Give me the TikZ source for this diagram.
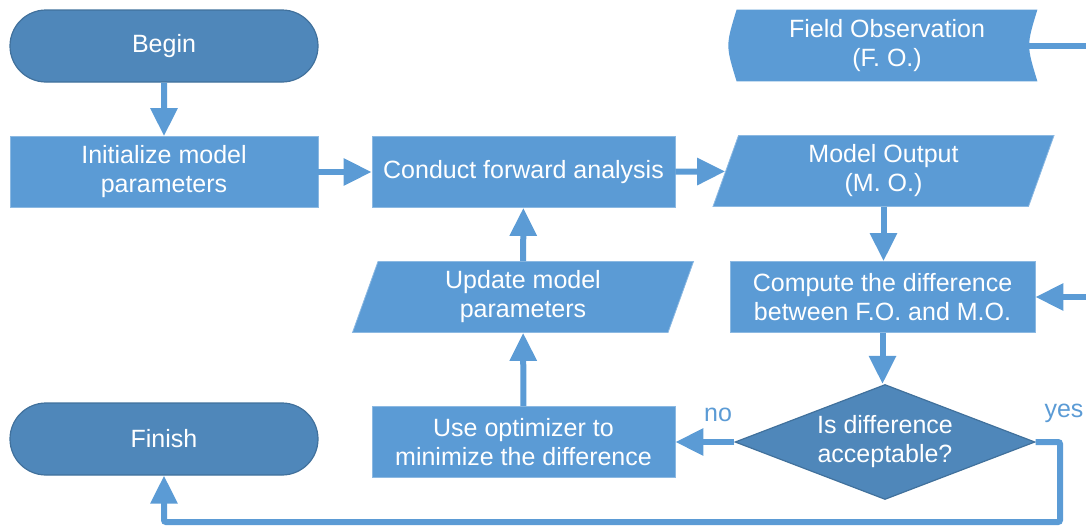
\documentclass[tikz,border=0pt]{standalone}
\usepackage{fontspec}
\setmainfont{Liberation Sans}
\usetikzlibrary{arrows.meta,shapes.geometric,shapes.misc,backgrounds}

\definecolor{boxblue}{HTML}{5B9BD5}
\definecolor{termblue}{HTML}{4F87BA}
\definecolor{edgeblue}{HTML}{41719C}

\tikzset{
  base/.style={inner sep=0pt, text=white, align=center,
    font=\fontsize{12.5}{14.5}\selectfont},
  terminal/.style={base, rounded rectangle, fill=termblue, draw=edgeblue,
    line width=0.6pt, minimum width=154pt, minimum height=36pt},
  process/.style={base, rectangle, fill=boxblue, draw=boxblue!70!white,
    line width=0.4pt, minimum height=35.5pt},
  inout/.style={base, trapezium, trapezium left angle=64, trapezium right angle=116,
    trapezium stretches body, fill=boxblue, draw=boxblue!70!white,
    line width=0.4pt, minimum width=170.5pt, minimum height=35.5pt},
  decision/.style={base, diamond, aspect=2.6, fill=termblue, draw=edgeblue,
    line width=0.6pt, minimum width=150pt, minimum height=57.5pt},
  flow/.style={draw=boxblue, line width=3pt,
    -{Triangle[length=14pt,width=13pt]}},
  branch/.style={text=boxblue, font=\fontsize{12.5}{14.5}\selectfont}
}

\begin{document}
\begin{tikzpicture}[x=0.5pt, y=-0.5pt]
\clip (0,0) rectangle (1086,530);

% nodes
\node[terminal] (begin) at (164,46) {Begin};
\node[process, minimum width=154pt] (init) at (164,172) {Initialize model\\parameters};
\node[process, minimum width=151.5pt] (fwd) at (523.5,172) {Conduct forward analysis};
\node[inout] (mo) at (883.5,171) {Model Output\\(M. O.)};
\node[base, minimum width=150pt, minimum height=35.5pt] (fo) at (887,45.5) {Field Observation\\(F. O.)};
\node[process, minimum width=152.5pt] (diff) at (882.5,297) {Compute the difference\\between F.O. and M.O.};
\node[inout] (upd) at (523,297) {Update model\\parameters};
\node[decision] (dec) at (885,442) {Is difference\\acceptable?};
\node[process, minimum width=151.5pt] (opt) at (523.5,442) {Use optimizer to\\minimize the difference};
\node[terminal] (fin) at (164,439) {Finish};

% stored data shape behind F.O.
\begin{scope}[on background layer]
\fill[boxblue] (fo.north west) .. controls ([xshift=-5.5pt]fo.west) .. (fo.south west)
  -- (fo.south east) .. controls ([xshift=-5.5pt]fo.east) .. (fo.north east) -- cycle;
\end{scope}

% connectors
\coordinate (foturn) at (1100,45.5);
\coordinate (yesturn) at (1060,522);
\draw[flow] (begin) -- (init);
\draw[flow] (init) -- (fwd);
\draw[flow] (fwd) -- (mo);
\draw[flow] (mo.south) -- (mo.south |- diff.north);
\draw[flow] (diff) -- (diff.south |- dec.north);
\draw[flow] ([xshift=-4pt]fo.east) -- (foturn) |- (diff.east);
\draw[flow] (dec.west) -- (opt.east);
\draw[flow] (opt) -- (upd);
\draw[flow] (upd) -- (fwd);
\draw[flow, rounded corners=1pt] (dec.east) -| (yesturn) -| (fin.south);

\node[branch] (no) at (718,415) {no};
\node[branch] (yes) at (1064,413) {yes};
\end{tikzpicture}
\end{document}
